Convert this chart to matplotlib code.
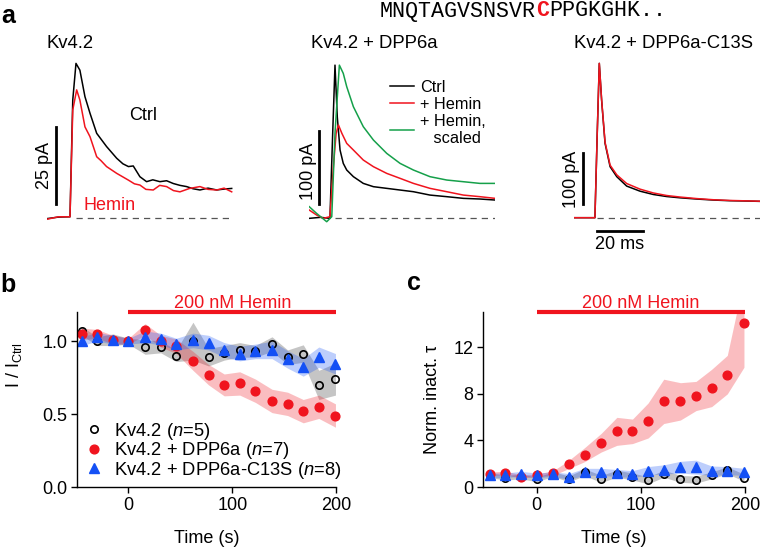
import matplotlib
matplotlib.use("Agg")
import matplotlib.pyplot as plt
import numpy as np

plt.rcParams['font.family'] = ['Liberation Sans', 'DejaVu Sans']
plt.rcParams['mathtext.fontset'] = 'custom'
plt.rcParams['mathtext.rm'] = 'Liberation Sans'
plt.rcParams['mathtext.it'] = 'Liberation Sans:italic'

W, H = 762, 552
RED = '#f0141e'
BLUE = '#1450f5'
GREEN = '#15a04a'

# ---- panel a traces (ms, pA) ----
a1_t_ctrl = [-10, -5, 0, 1.2, 2.6, 4.3, 6.5, 8.7, 11.6, 15.9, 20.3, 23.0, 25.4, 27.5, 30.4, 33.3, 36.0, 39.1, 42.0, 44.9, 47.8, 50.7, 53.5, 56.5, 60.0, 63.8, 67.0, 70.3]
a1_i_ctrl = [-0.3, 0.2, 0.3, 38.2, 50.1, 47.9, 39.3, 33.9, 27.4, 23.1, 19.3, 17.5, 16.6, 16.8, 13.3, 11.7, 12.3, 11.7, 12.0, 11.1, 10.5, 10.1, 9.4, 9.0, 9.6, 9.0, 9.3, 9.5]
a1_t_hem = [-10, -5, 0, 1.2, 2.9, 4.3, 6.5, 8.7, 11.6, 13.5, 15.9, 20.3, 25.4, 28.0, 30.4, 33.0, 36.2, 39.0, 42.0, 45.0, 47.8, 52.0, 56.5, 60.0, 63.8, 67.0, 70.3]
a1_i_hem = [-0.5, 0.3, 0.3, 35.0, 41.5, 38.2, 29.5, 26.3, 19.8, 18.5, 16.6, 14.4, 12.2, 11.0, 10.6, 9.2, 9.0, 10.5, 10.1, 8.8, 8.4, 9.5, 10.1, 9.2, 9.0, 9.6, 8.4]

a2_t_ctrl = [-9.9, -5, -0.9, 0.3, 1.3, 2.3, 3.5, 4.9, 6.4, 9.3, 13.6, 18.0, 23.8, 29.6, 35.4, 42.6, 49.9, 57.1, 64.3, 70.9]
a2_i_ctrl = [-0.9, 0.5, -0.9, 115.5, 209, 138, 92.7, 74.4, 65.3, 56.2, 47.0, 42.5, 40.2, 37.9, 35.6, 31.0, 28.8, 26.5, 25.6, 24.2]
a2_t_hem = [-9.9, -6.7, -3.8, -0.9, 0.6, 1.8, 2.8, 4.3, 6.4, 9.3, 13.6, 18.0, 23.8, 29.6, 35.4, 42.6, 49.9, 57.1, 64.3, 70.9]
a2_i_hem = [10.5, 3.7, -0.9, 1.4, 69.9, 115.5, 127, 115.5, 101.8, 92.7, 79.0, 69.9, 60.7, 53.9, 47.0, 40.2, 35.6, 31.0, 28.8, 26.5]
a2_t_scl = [-9.9, -6.7, -2.3, -0.1, 1.3, 3.2, 4.9, 6.4, 9.3, 13.6, 18.0, 23.8, 29.6, 35.4, 42.6, 49.9, 57.1, 64.3, 70.9]
a2_i_scl = [15.1, 5.9, -5.5, 1.4, 115.5, 209, 197.7, 179.5, 152, 124.7, 106.4, 88.1, 74.4, 65.3, 56.2, 51.6, 49.3, 47.0, 47.0]

a3_t = [-10, -0.9, 0.1, 1.0, 2.0, 3.5, 5.7, 8.6, 12.9, 18.7, 24.5, 30.3, 36.1, 43.3, 50.6, 57.8, 65.1, 70.9]
a3_i_ctrl = [0, 0, 165, 302.6, 230.7, 145.8, 100, 80.4, 62, 52, 45.5, 41.5, 39.0, 36.6, 34.6, 33.3, 32.7, 32.0]
a3_i_hem = [0, 0, 165, 302.6, 232, 148, 103, 84, 67, 56, 48.5, 43.5, 40.5, 37.5, 35.2, 33.8, 33.0, 32.3]

# ---- panels b, c ----
times = [-45, -30, -15, 0, 16, 31, 46, 62, 77, 92, 107, 122, 138, 153, 168, 183, 199]

b_kv42 = [1.07, 1.00, 1.01, 1.00, 0.96, 0.96, 0.90, 1.00, 0.89, 0.92, 0.94, 0.93, 0.98, 0.89, 0.915, 0.70, 0.74]
b_kv42_sem = [0.03, 0.03, 0.04, 0.02, 0.05, 0.04, 0.04, 0.13, 0.06, 0.05, 0.05, 0.04, 0.05, 0.05, 0.06, 0.10, 0.11]
b_dpp6a = [1.05, 1.05, 1.01, 1.00, 1.08, 1.00, 0.965, 0.865, 0.77, 0.70, 0.71, 0.66, 0.59, 0.57, 0.52, 0.55, 0.49]
b_dpp6a_sem = [0.04, 0.03, 0.03, 0.02, 0.04, 0.04, 0.05, 0.065, 0.07, 0.075, 0.08, 0.08, 0.08, 0.08, 0.08, 0.08, 0.08]
b_c13s = [1.00, 1.03, 1.01, 1.00, 1.03, 1.015, 0.98, 1.005, 0.99, 0.94, 0.915, 0.93, 0.94, 0.875, 0.82, 0.89, 0.845]
b_c13s_sem = [0.03, 0.03, 0.03, 0.02, 0.04, 0.04, 0.04, 0.05, 0.05, 0.05, 0.05, 0.05, 0.06, 0.06, 0.06, 0.07, 0.07]

c_kv42 = [1.0, 0.8, 0.9, 0.66, 1.1, 0.7, 1.26, 0.7, 1.14, 0.9, 0.57, 1.14, 0.7, 0.63, 1.0, 1.43, 0.8]
c_kv42_sem = [0.2, 0.2, 0.2, 0.2, 0.2, 0.25, 0.3, 0.3, 0.3, 0.3, 0.3, 0.3, 0.3, 0.3, 0.3, 0.3, 0.3]
c_dpp6a = [1.14, 1.2, 0.9, 1.0, 1.2, 1.94, 2.77, 3.8, 4.77, 4.77, 5.7, 7.34, 7.34, 7.8, 8.49, 9.63, 14.06]
c_dpp6a_sem = [0.15, 0.15, 0.15, 0.1, 0.2, 0.35, 0.6, 0.8, 1.2, 1.05, 1.5, 1.9, 1.6, 1.25, 1.6, 1.65, 3.8]
c_c13s = [1.0, 1.0, 1.14, 1.0, 1.1, 0.9, 1.3, 1.3, 1.2, 1.1, 1.4, 1.5, 1.7, 1.7, 1.4, 1.4, 1.3]
c_c13s_sem = [0.2, 0.2, 0.2, 0.2, 0.2, 0.25, 0.3, 0.3, 0.3, 0.3, 0.35, 0.4, 0.5, 0.6, 0.4, 0.35, 0.3]

legend_labels = ['Kv4.2 ($n$=5)', 'Kv4.2 + DPP6a ($n$=7)', 'Kv4.2 + DPP6a-C13S ($n$=8)']

fig = plt.figure(figsize=(W / 100, H / 100), dpi=100)


def px_axes(left, top, right, bottom):
    return fig.add_axes([left / W, 1 - bottom / H, (right - left) / W, (bottom - top) / H])


def trace_axes(left, base, px_per_pa):
    ax = px_axes(left, 55, left + 81 * 2.3, 255)
    ax.set_xlim(-10, 71)
    ax.set_ylim(-(255 - base) / px_per_pa, (base - 55) / px_per_pa)
    ax.axis('off')
    return ax


# a1
ax1 = trace_axes(47, 217.7, 3.08)
ax1.plot([2.6, 70], [0, 0], ls=(0, (5, 4)), color='#555555', lw=0.9)
ax1.plot(a1_t_ctrl, a1_i_ctrl, color='black', lw=1.1)
ax1.plot(a1_t_hem, a1_i_hem, color=RED, lw=1.1)
ax1.plot([-6.1, -6.1], [4.4, 29.4], color='black', lw=2, clip_on=False)
ax1.text(-11, 16.8, '25 pA', rotation=90, ha='center', va='center', fontsize=13)
ax1.text(31.7, 33.3, 'Ctrl', ha='center', va='center', fontsize=13)
ax1.text(17.4, 4.1, 'Hemin', ha='center', va='center', fontsize=13, color=RED)
ax1.text(0, 56.5, 'Kv4.2', ha='center', va='center', fontsize=13.3, clip_on=False)

# a2
ax2 = trace_axes(309, 217.7, 0.73)
ax2.plot([1.3, 71], [0, 0], ls=(0, (5, 4)), color='#555555', lw=0.9)
l1, = ax2.plot(a2_t_ctrl, a2_i_ctrl, color='black', lw=1.1)
l2, = ax2.plot(a2_t_hem, a2_i_hem, color=RED, lw=1.1)
l3, = ax2.plot(a2_t_scl, a2_i_scl, color=GREEN, lw=1.1)
ax2.plot([-5.7, -5.7], [18.8, 118.8], color='black', lw=2, clip_on=False)
ax2.text(-10.4, 64, '100 pA', rotation=90, ha='center', va='center', fontsize=13)
ax2.text(18.5, 239, 'Kv4.2 + DPP6a', ha='center', va='center', fontsize=13.3, clip_on=False)
ax2.legend([l1, l2, l3], ['Ctrl', '+ Hemin', '+ Hemin,\n   scaled'], loc='upper left',
           bbox_to_anchor=((390 - 309) / 186.3, (255 - 80) / 200), frameon=False,
           fontsize=11.7, handlelength=1.5, handletextpad=0.35, labelspacing=0.12,
           borderpad=0, borderaxespad=0)

# a3
ax3 = trace_axes(574, 217.7, 0.51)
ax3.plot([0, 71], [0, 0], ls=(0, (5, 4)), color='#555555', lw=0.9)
ax3.plot(a3_t, a3_i_ctrl, color='black', lw=1.1)
ax3.plot(a3_t, a3_i_hem, color=RED, lw=1.1)
ax3.plot([-6.1, -6.1], [26.9, 126.9], color='black', lw=2, clip_on=False)
ax3.plot([0, 20], [-26, -26], color='black', lw=2, clip_on=False)
ax3.text(-10.9, 76, '100 pA', rotation=90, ha='center', va='center', fontsize=13)
ax3.text(10, -52, '20 ms', ha='center', va='center', fontsize=13)
ax3.text(29, 341, 'Kv4.2 + DPP6a-C13S', ha='center', va='center', fontsize=13.3, clip_on=False)

# sequence
seq_fs = 15.6
cw = 0.6 * seq_fs * 100 / 72
x0 = 380
fig.text(x0 / W, 1 - 11 / H, 'MNQTAGVSNSVR', family='Liberation Mono', fontsize=seq_fs, va='center', ha='left')
fig.text((x0 + 12 * cw) / W, 1 - 11 / H, 'C', family='Liberation Mono', fontsize=seq_fs, va='center',
         ha='left', color=RED, weight='bold')
fig.text((x0 + 13 * cw) / W, 1 - 11 / H, 'PPGKGHK..', family='Liberation Mono', fontsize=seq_fs, va='center', ha='left')

# panel letters
fig.text(1 / W, 1 - 23 / H, 'a', fontsize=18, weight='bold', va='baseline')
fig.text(0 / W, 1 - 292 / H, 'b', fontsize=18, weight='bold', va='baseline')
fig.text(407 / W, 1 - 290 / H, 'c', fontsize=18, weight='bold', va='baseline')


def summary(ax, kv, kv_sem, dp, dp_sem, cs, cs_sem):
    t = np.array(times)
    for y, s, c, a in [(kv, kv_sem, '#808080', 0.45), (dp, dp_sem, RED, 0.28), (cs, cs_sem, BLUE, 0.28)]:
        y = np.array(y)
        s = np.array(s)
        ax.fill_between(t, y - s, y + s, color=c, alpha=a, lw=0)
    h1, = ax.plot(t, kv, 'o', mfc='none', mec='black', mew=1.2, ms=5.3, ls='none', clip_on=False)
    h2, = ax.plot(t, dp, 'o', color=RED, ms=6.3, ls='none', clip_on=False)
    h3, = ax.plot(t, cs, '^', color=BLUE, ms=7, ls='none', clip_on=False)
    for sp in ['top', 'right']:
        ax.spines[sp].set_visible(False)
    for sp in ['left', 'bottom']:
        ax.spines[sp].set_linewidth(1.0)
    ax.tick_params(direction='out', length=4, width=1.0, labelsize=13, pad=3)
    ax.set_xticks([0, 100, 200])
    ax.set_xlabel('Time (s)', fontsize=13)
    ax.xaxis.set_label_coords(0.5, -0.245)
    top = ax.get_ylim()[1]
    ax.plot([0, 200], [top, top], color=RED, lw=3, clip_on=False, solid_capstyle='butt')
    ax.text(100, top, '200 nM Hemin', color=RED, fontsize=13, ha='center', va='bottom')
    return h1, h2, h3


axb = px_axes(77, 312, 336.5, 487)
axb.set_xlim(-49.5, 200)
axb.set_ylim(0, 1.2)
axb.set_yticks([0, 0.5, 1.0])
axb.set_yticklabels(['0.0', '0.5', '1.0'])
hb = summary(axb, b_kv42, b_kv42_sem, b_dpp6a, b_dpp6a_sem, b_c13s, b_c13s_sem)
axb.set_ylabel(r'I / I$_\mathregular{Ctrl}$', fontsize=13)
axb.yaxis.set_label_coords(-0.205, 0.70)
axb.legend(hb, legend_labels, loc='lower left', bbox_to_anchor=(0.03, 0.035), frameon=False,
           fontsize=13.2, handlelength=1.0, handletextpad=0.6, labelspacing=-0.08,
           borderpad=0, borderaxespad=0)

axc = px_axes(483, 312, 745, 487)
axc.set_xlim(-51.5, 200)
axc.set_ylim(0, 15)
axc.set_yticks([0, 4, 8, 12])
summary(axc, c_kv42, c_kv42_sem, c_dpp6a, c_dpp6a_sem, c_c13s, c_c13s_sem)
axc.set_ylabel('Norm. inact. τ', fontsize=13)
axc.yaxis.set_label_coords(-0.16, 0.5)

fig.savefig('out.png', dpi=100)
